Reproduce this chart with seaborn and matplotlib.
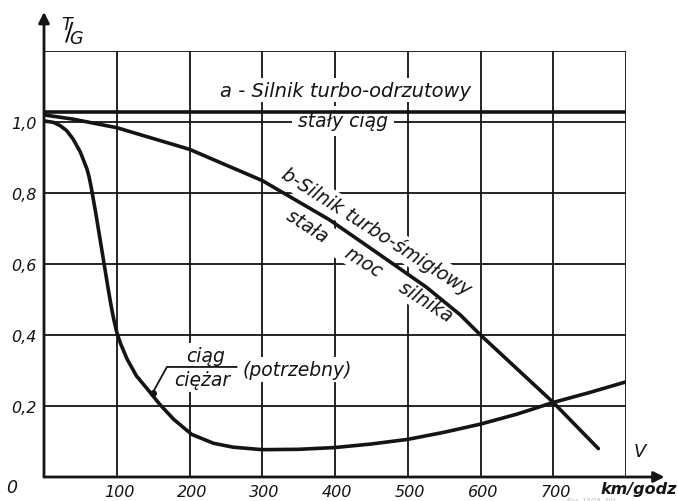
import matplotlib
matplotlib.use("Agg")
import matplotlib.pyplot as plt
import seaborn as sns
import pandas as pd
from matplotlib.transforms import ScaledTranslation

# ---- data ----
speed_a = [0, 800]
ratio_a = [1.027, 1.027]

speed_b = [0, 40, 100, 200, 300, 392, 435, 480, 526, 572, 600, 700, 762]
ratio_b = [1.02, 1.008, 0.984, 0.923, 0.835, 0.725, 0.664, 0.60, 0.534, 0.457, 0.40, 0.21, 0.08]

speed_c = [0, 13, 22, 31, 40, 50, 59, 62, 65, 68, 72, 76, 80, 84, 88, 92, 96, 100, 105,
           114, 127, 146, 159, 178, 203, 233, 260, 300, 350, 400, 450, 500, 550, 600,
           650, 700, 750, 800]
ratio_c = [1.003, 0.999, 0.99, 0.976, 0.952, 0.915, 0.868, 0.845, 0.815, 0.78, 0.733,
           0.683, 0.633, 0.583, 0.533, 0.485, 0.443, 0.408, 0.377, 0.333, 0.285, 0.238,
           0.205, 0.163, 0.12, 0.095, 0.084, 0.077, 0.078, 0.083, 0.093, 0.106, 0.126,
           0.149, 0.177, 0.21, 0.238, 0.268]

x_ticks = [100, 200, 300, 400, 500, 600, 700]
x_tick_labels = ["100", "200", "300", "400", "500", "600", "700"]
y_ticks = [0.2, 0.4, 0.6, 0.8, 1.0]
y_tick_labels = ["0,2", "0,4", "0,6", "0,8", "1,0"]

df_a = pd.DataFrame({"V": speed_a, "TG": ratio_a})
df_b = pd.DataFrame({"V": speed_b, "TG": ratio_b})
df_c = pd.DataFrame({"V": speed_c, "TG": ratio_c})

sns.set_theme(style="white")
plt.rcParams["font.family"] = ["DejaVu Sans"]

fig = plt.figure(figsize=(6.78, 5.02), dpi=100)
ax = fig.add_axes([44 / 678, 24 / 502, 582 / 678, 426 / 502])
ax.set_xlim(0, 800)
ax.set_ylim(0, 1.2)
for s in ax.spines.values():
    s.set_visible(False)
ax.set_facecolor("white")

ink = "#141414"
# grid (hand-drawn style)
for yv in [0.2, 0.4, 0.6, 0.8, 1.0, 1.2]:
    ax.plot([0, 800], [yv, yv], color=ink, lw=1.3, zorder=1, solid_capstyle="butt")
for xv in [100, 200, 300, 400, 500, 600, 700, 800]:
    ax.plot([xv, xv], [0, 1.2], color=ink, lw=1.3, zorder=1, solid_capstyle="butt")

# axes with arrows
ax.annotate("", xy=(853, 0), xytext=(0, 0), xycoords="data",
            arrowprops=dict(arrowstyle="-|>", color=ink, lw=2.0,
                            mutation_scale=16, shrinkA=0, shrinkB=0),
            annotation_clip=False, zorder=4)
ax.annotate("", xy=(0, 1.31), xytext=(0, 0), xycoords="data",
            arrowprops=dict(arrowstyle="-|>", color=ink, lw=2.0,
                            mutation_scale=16, shrinkA=0, shrinkB=0),
            annotation_clip=False, zorder=4)

# curves
sns.lineplot(data=df_a, x="V", y="TG", color=ink, lw=2.6, ax=ax, zorder=5)
sns.lineplot(data=df_b, x="V", y="TG", color=ink, lw=2.6, ax=ax, zorder=5)
sns.lineplot(data=df_c, x="V", y="TG", color=ink, lw=2.6, ax=ax, zorder=5)
ax.set_xlabel("")
ax.set_ylabel("")

# ticks
ax.set_xticks(x_ticks)
ax.set_xticklabels(x_tick_labels, fontstyle="italic", fontsize=11.5, color=ink)
ax.set_yticks(y_ticks)
ax.set_yticklabels(y_tick_labels, fontstyle="italic", fontsize=11.5, color=ink)
ax.tick_params(axis="both", length=0, pad=5)
off = ScaledTranslation(-13 / 100, 0, fig.dpi_scale_trans)
for lbl in ax.get_xticklabels():
    lbl.set_horizontalalignment("left")
    lbl.set_transform(lbl.get_transform() + off)

white = dict(facecolor="white", edgecolor="none", pad=2)
tkw = dict(fontstyle="italic", color=ink, zorder=2)
fs = 13.5

ax.text(414, 1.09, "a - Silnik turbo-odrzutowy", ha="center", va="center",
        fontsize=14, bbox=white, **tkw)
ax.text(411, 1.003, "stały ciąg", ha="center", va="center",
        fontsize=fs, bbox=dict(facecolor="white", edgecolor="none", pad=4), **tkw)
ax.text(324, 0.845, "b-Silnik turbo-śmigłowy", ha="left", va="baseline",
        fontsize=fs, rotation=-32.5, rotation_mode="anchor", bbox=white, **tkw)
ax.text(342, 0.766, "stała    moc    silnika", ha="left", va="top",
        fontsize=fs, rotation=-32.5, rotation_mode="anchor", bbox=white, **tkw)

ax.text(222, 0.343, "ciąg", ha="center", va="center", fontsize=fs, bbox=white, **tkw)
ax.text(217, 0.274, "ciężar", ha="center", va="center", fontsize=fs, bbox=white, **tkw)
ax.text(348, 0.302, "(potrzebny)", ha="center", va="center", fontsize=fs,
        bbox=white, **tkw)
ax.plot([149, 169, 265], [0.236, 0.31, 0.31], color=ink, lw=1.3, zorder=4)
ax.plot([150], [0.238], marker="o", ms=4, color=ink, zorder=6)

ax.text(-44, -0.028, "0", ha="center", va="center", fontsize=12.5,
        clip_on=False, **tkw)

# axis titles
fig.text(72 / 678, 1 - 32 / 502, r"$^{T}\!\!/\!_{G}$", fontsize=18,
         ha="center", va="center", color=ink)
fig.text(640 / 678, 1 - 452 / 502, "V", fontsize=13, ha="center", va="center", **tkw)
fig.text(639 / 678, 1 - 490 / 502, "km/godz", fontsize=11.5, fontweight="bold",
         ha="center", va="center", **tkw)
fig.text(592 / 678, 1 - 500.5 / 502, "Rys. 15/59  201", fontsize=4.5, color="#b8b8b8",
         ha="center", va="center", fontstyle="italic")

fig.savefig("out.png", dpi=100, facecolor="white")
